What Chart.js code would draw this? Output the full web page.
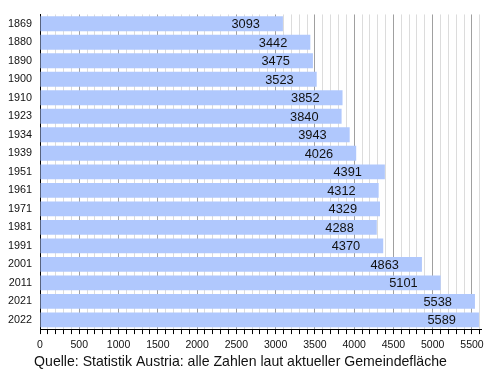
<!DOCTYPE html>
<html>
<head>
<meta charset="utf-8">
<script src="https://cdn.jsdelivr.net/npm/chart.js@4/dist/chart.umd.min.js"></script>
<style>
  html, body { margin: 0; padding: 0; background: #fff; }
  #wrap { width: 500px; height: 370px; }
</style>
</head>
<body>
<div id="wrap"><canvas id="popChart" width="500" height="370"></canvas></div>
<script>
const years = ["1869", "1880", "1890", "1900", "1910", "1923", "1934", "1939", "1951",
  "1961", "1971", "1981", "1991", "2001", "2011", "2021", "2022"];
const population = [3093, 3442, 3475, 3523, 3852, 3840, 3943, 4026, 4391,
  4312, 4329, 4288, 4370, 4863, 5101, 5538, 5589];
const sourceNote = "Quelle: Statistik Austria: alle Zahlen laut aktueller Gemeindefläche";

const FONT = "'Liberation Sans', Arial, sans-serif";

// draws the number near the end of every bar
const valueLabels = {
  id: "valueLabels",
  afterDatasetsDraw(chart) {
    const ctx = chart.ctx;
    const meta = chart.getDatasetMeta(0);
    ctx.save();
    ctx.font = "12.8px " + FONT;
    ctx.fillStyle = "#111";
    ctx.textAlign = "right";
    ctx.textBaseline = "middle";
    meta.data.forEach((bar, i) => {
      ctx.fillText(String(population[i]), bar.x - 23, bar.y + 1);
    });
    ctx.restore();
  }
};

new Chart(document.getElementById("popChart").getContext("2d"), {
  type: "bar",
  data: {
    labels: years,
    datasets: [{
      data: population,
      backgroundColor: "#b0c8fd",
      borderWidth: 0,
      barPercentage: 0.8,
      categoryPercentage: 1.0,
    }],
  },
  plugins: [valueLabels],
  options: {
    indexAxis: "y",
    responsive: false,
    animation: false,
    layout: { padding: { left: 0, right: 19, top: 8, bottom: 0 } },
    plugins: {
      legend: { display: false },
      tooltip: { enabled: false },
      title: {
        display: true,
        position: "bottom",
        text: sourceNote,
        color: "#111",
        font: { family: FONT, size: 14.1, weight: "normal", lineHeight: 1.15 },
        padding: { top: 2, bottom: 0 },
      },
    },
    scales: {
      x: {
        min: 0,
        max: 5615,
        afterFit: (scale) => { scale.height = 22.7; },
        border: { color: "#000", width: 1 },
        grid: {
          color: (c) => (c.tick && c.tick.value % 500 === 0 ? "#a0a0a0" : "#dcdcdc"),
          tickColor: "#000",
          tickLength: 5,
        },
        ticks: {
          stepSize: 100,
          autoSkip: false,
          includeBounds: false,
          maxRotation: 0,
          padding: 5,
          color: "#111",
          font: { family: FONT, size: 10.5 },
          callback: (v) => (v % 500 === 0 ? String(v) : ""),
        },
      },
      y: {
        afterFit: (scale) => { scale.width = 40; },
        border: { color: "#000", width: 1 },
        grid: { color: "rgba(0,0,0,0)", drawTicks: false, tickLength: 0 },
        ticks: {
          padding: 8,
          color: "#111",
          font: { family: FONT, size: 10.8 },
        },
      },
    },
  },
});
</script>
</body>
</html>
